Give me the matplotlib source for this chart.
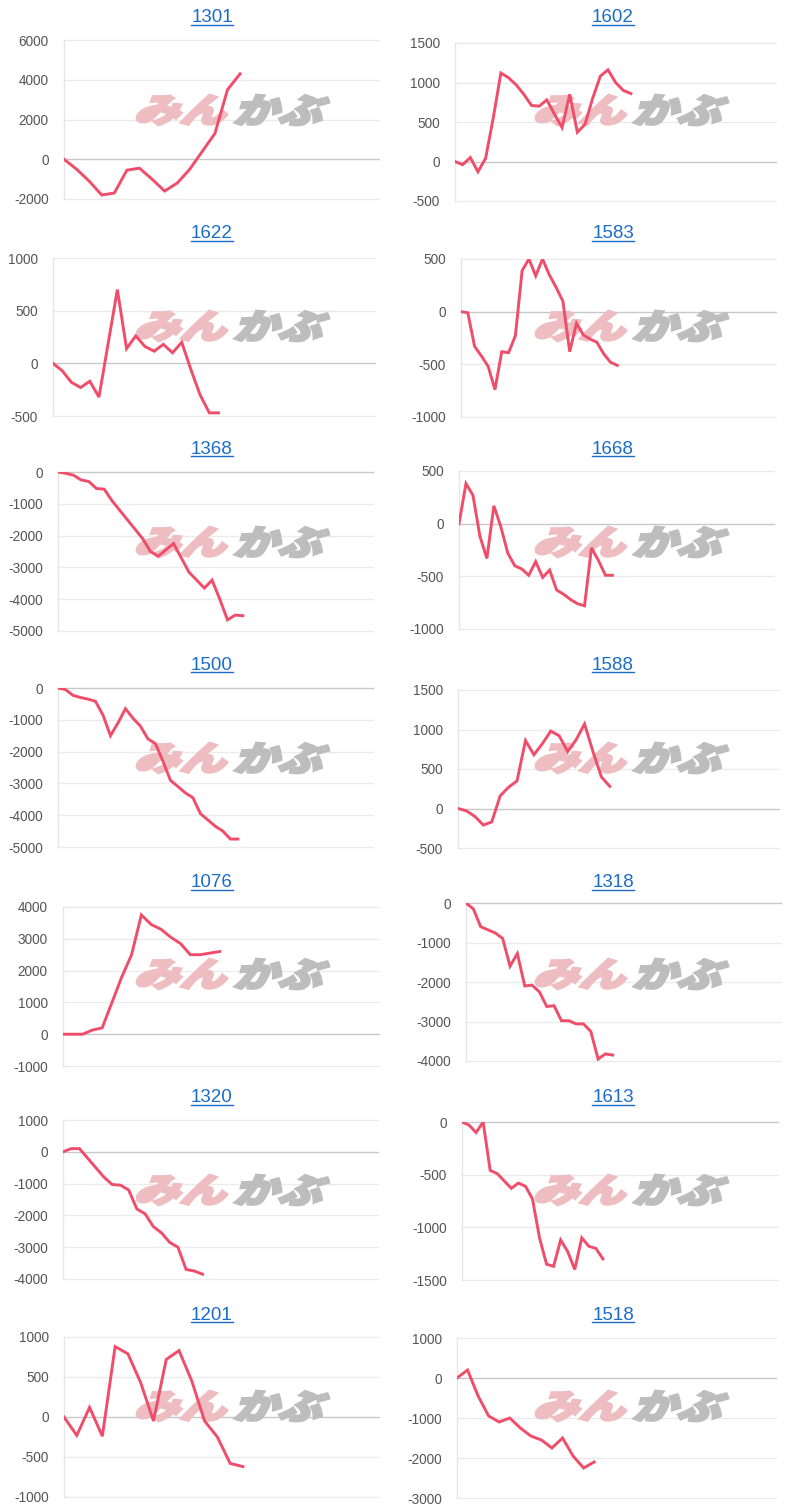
import numpy as np
import matplotlib
matplotlib.use("Agg")
import matplotlib.pyplot as plt
from matplotlib.textpath import TextPath
from matplotlib.font_manager import FontProperties
from matplotlib.patches import PathPatch
from matplotlib.transforms import Affine2D
from matplotlib.lines import Line2D

W, H = 800, 1512

# stock codes, in reading order (left, right, left, right ...)
codes = ["1301", "1602", "1622", "1583", "1368", "1668", "1500",
         "1588", "1076", "1318", "1320", "1613", "1201", "1518"]

# profit/loss series
v1301 = [0, -500, -1100, -1800, -1700, -550, -450, -1000, -1600, -1200, -500, 400, 1300, 3500, 4300]
v1602 = [0, -40, 50, -130, 40, 550, 1120, 1060, 970, 850, 710, 700, 780, 600, 430, 850, 370, 470,
         800, 1080, 1160, 1000, 900, 860]
v1622 = [0, -70, -180, -230, -170, -320, 190, 700, 140, 260, 160, 115, 180, 100, 200, -60, -300, -470, -470]
v1583 = [0, -10, -330, -420, -520, -740, -380, -390, -230, 390, 500, 340, 500, 350, 230, 100, -380, -110,
         -220, -260, -290, -400, -480, -510]
v1368 = [0, -40, -100, -250, -300, -520, -540, -900, -1200, -1500, -1800, -2100, -2500, -2650, -2450,
         -2250, -2700, -3150, -3400, -3650, -3400, -4000, -4650, -4500, -4520]
v1668 = [0, 380, 270, -120, -330, 170, -30, -280, -400, -430, -490, -360, -510, -440, -630, -670, -720,
         -760, -780, -230, -350, -490, -490]
v1500 = [0, -50, -230, -300, -350, -420, -850, -1500, -1100, -650, -950, -1200, -1600, -1750, -2300,
         -2900, -3100, -3300, -3450, -3950, -4150, -4350, -4500, -4750, -4750]
v1588 = [0, -30, -100, -210, -170, 160, 270, 350, 860, 680, 820, 980, 920, 720, 870, 1070, 720, 400, 280]
v1076 = [0, 0, 0, 130, 200, 1000, 1800, 2500, 3750, 3450, 3300, 3050, 2850, 2500, 2500, 2550, 2600]
v1318 = [0, -150, -600, -680, -760, -900, -1600, -1280, -2100, -2080, -2250, -2620, -2600, -2980, -2980,
         -3060, -3060, -3250, -3950, -3820, -3850]
v1320 = [0, 100, 100, -200, -500, -800, -1030, -1050, -1200, -1800, -1950, -2350, -2550, -2850, -3000,
         -3700, -3750, -3850]
v1613 = [0, -30, -100, 0, -460, -490, -560, -630, -580, -610, -730, -1100, -1350, -1370, -1120, -1230,
         -1400, -1100, -1180, -1200, -1300]
v1201 = [0, -230, 120, -240, 880, 790, 430, -50, 720, 830, 450, -50, -250, -580, -620]
v1518 = [0, 200, -450, -950, -1100, -1000, -1250, -1450, -1550, -1750, -1500, -1950, -2250, -2100]

series = [v1301, v1602, v1622, v1583, v1368, v1668, v1500,
          v1588, v1076, v1318, v1320, v1613, v1201, v1518]

# y axis range and tick step per chart
y_lo = [-2000, -500, -500, -1000, -5000, -1000, -5000, -500, -1000, -4000, -4000, -1500, -1000, -3000]
y_hi = [6000, 1500, 1000, 500, 0, 500, 0, 1500, 4000, 0, 1000, 0, 1000, 1000]
y_step = [2000, 500, 500, 500, 1000, 500, 1000, 500, 1000, 1000, 1000, 500, 500, 1000]
# share of the x axis the data covers
x_span = [0.559, 0.548, 0.514, 0.496, 0.587, 0.487, 0.571, 0.473, 0.496, 0.466, 0.443, 0.446, 0.568, 0.43]

# layout in pixels (from top-left)
ax_left = [64, 455, 53, 461, 58, 459, 58, 458, 63, 466, 63, 462, 64, 457]
ax_right = [379, 776, 375, 776, 373, 774, 373, 779, 379, 781, 378, 778, 379, 776]
ax_top = [40, 43, 258, 259, 472, 471, 688, 690, 907, 903, 1120, 1122, 1337, 1338]
ax_bot = [199, 201, 416, 417, 631, 629, 847, 848, 1066, 1061, 1279, 1280, 1497, 1498]
title_y = [18, 234, 449, 665, 883, 1098, 1315]
title_x = [212, 613]

LINE = "#f04d6a"
LINK = "#1c6dc9"

fig = plt.figure(figsize=(W / 100, H / 100), dpi=100)
plt.rcParams["font.family"] = ["Liberation Sans", "DejaVu Sans"]

logo_fp = FontProperties(family="Noto Sans CJK JP", weight="black")


# draws one half of the watermark squeezed into a pixel box
def logo_part(ax, txt, x0, x1, y0, y1, color):
    tp = TextPath((0, 0), txt, size=10, prop=logo_fp)
    tp = Affine2D().skew_deg(16, 0).transform_path(tp)
    ext = tp.get_extents()
    sx = (x1 - x0) / ext.width / W
    sy = (y1 - y0) / ext.height / H
    tr = Affine2D().translate(-ext.x0, -ext.y0).scale(sx, sy).translate(x0 / W, 1 - y1 / H)
    # thick edge in the same colour makes the glyphs heavier, like the logo
    p = PathPatch(tr.transform_path(tp), transform=fig.transFigure, fc=color, ec=color,
                  lw=2.0, joinstyle="miter", zorder=1.5)
    ax.add_artist(p)


titles = []
for i, vals in enumerate(series):
    row, col = i // 2, i % 2
    l, r, t, b = ax_left[i], ax_right[i], ax_top[i], ax_bot[i]
    ax = fig.add_axes([l / W, 1 - b / H, (r - l) / W, (b - t) / H])

    x = np.arange(len(vals))
    ax.plot(x, vals, color=LINE, lw=2.1, zorder=3, solid_joinstyle="miter")
    ax.set_xlim(0, (len(vals) - 1) / x_span[i])
    ax.set_ylim(y_lo[i], y_hi[i])
    ticks = np.arange(y_lo[i], y_hi[i] + 1, y_step[i])
    ax.set_yticks(ticks)
    ax.set_yticklabels([str(v) for v in ticks])
    ax.set_xticks([])
    ax.tick_params(axis="y", length=0, pad=11, labelsize=9.8, labelcolor="#555555")
    for s in ["top", "right", "bottom"]:
        ax.spines[s].set_visible(False)
    ax.spines["left"].set_color("#e6e6e6")
    ax.spines["left"].set_linewidth(1)
    for v in ticks:
        c = "#c8c8c8" if v == 0 else "#ebebeb"
        ax.axhline(v, color=c, lw=1, zorder=1, clip_on=False)
    ax.set_facecolor("white")

    # watermark
    dx = 0 if col == 0 else 399
    cy = 110 + 216 * row
    logo_part(ax, "みん", 137 + dx, 227 + dx, cy - 15, cy + 15, "#eebdc1")
    logo_part(ax, "かぶ", 235 + dx, 329 + dx, cy - 15, cy + 15, "#bdbdbd")

    tt = fig.text(title_x[col] / W, 1 - title_y[row] / H, codes[i], ha="center", va="center",
                  fontsize=13.5, color=LINK)
    titles.append(tt)

# underline the titles like links
fig.canvas.draw()
inv = fig.transFigure.inverted()
for tt in titles:
    bb = tt.get_window_extent()
    (x0, y0), (x1, _) = inv.transform([(bb.x0, bb.y0 + 1.5), (bb.x1, bb.y0)])
    fig.add_artist(Line2D([x0, x1], [y0, y0], transform=fig.transFigure, color=LINK, lw=1))

fig.savefig("out.png", dpi=100, facecolor="white")
